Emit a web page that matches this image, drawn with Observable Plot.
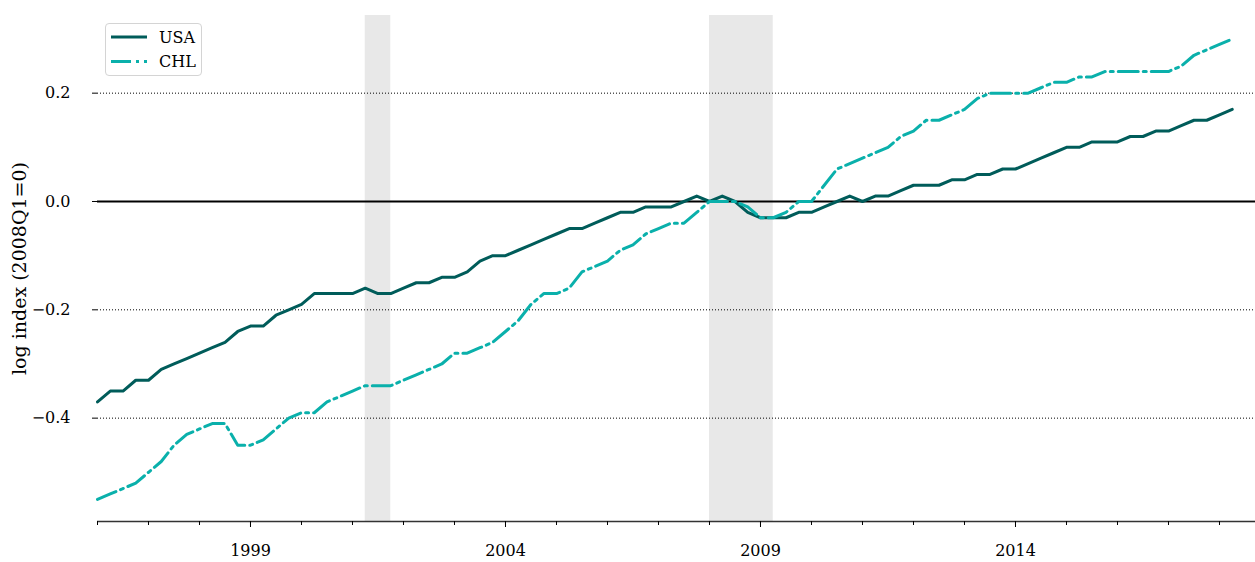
<!DOCTYPE html>
<html><head><meta charset="utf-8">
<script src="https://cdn.jsdelivr.net/npm/d3@7"></script>
<script src="https://cdn.jsdelivr.net/npm/@observablehq/plot@0.6"></script>
<style>
body{margin:0;background:#fff;font-family:"DejaVu Serif",serif;}
#wrap{position:relative;width:1255px;height:562px;}
#legend{position:absolute;left:105px;top:23px;width:97px;height:53px;border:1px solid #d4d4d4;border-radius:4px;background:rgba(255,255,255,0.85);box-sizing:border-box;}
#legend svg{position:absolute;left:0;top:0;}
</style></head><body>
<div id="wrap"><div id="chart"></div><div id="legend"></div></div>
<script>
// ---- data ----
const startYear = 1996; // first quarter: 1996Q1, quarterly observations
const countries = ["USA", "CHL"];
const usa = [-0.37,-0.35,-0.35,-0.33,-0.33,-0.31,-0.30,-0.29,-0.28,-0.27,-0.26,-0.24,
  -0.23,-0.23,-0.21,-0.20,-0.19,-0.17,-0.17,-0.17,-0.17,-0.16,-0.17,-0.17,
  -0.16,-0.15,-0.15,-0.14,-0.14,-0.13,-0.11,-0.10,-0.10,-0.09,-0.08,-0.07,
  -0.06,-0.05,-0.05,-0.04,-0.03,-0.02,-0.02,-0.01,-0.01,-0.01,0.00,0.01,
  0.00,0.01,0.00,-0.02,-0.03,-0.03,-0.03,-0.02,-0.02,-0.01,0.00,0.01,
  0.00,0.01,0.01,0.02,0.03,0.03,0.03,0.04,0.04,0.05,0.05,0.06,
  0.06,0.07,0.08,0.09,0.10,0.10,0.11,0.11,0.11,0.12,0.12,0.13,
  0.13,0.14,0.15,0.15,0.16,0.17];
const chl = [-0.55,-0.54,-0.53,-0.52,-0.50,-0.48,-0.45,-0.43,-0.42,-0.41,-0.41,-0.45,
  -0.45,-0.44,-0.42,-0.40,-0.39,-0.39,-0.37,-0.36,-0.35,-0.34,-0.34,-0.34,
  -0.33,-0.32,-0.31,-0.30,-0.28,-0.28,-0.27,-0.26,-0.24,-0.22,-0.19,-0.17,
  -0.17,-0.16,-0.13,-0.12,-0.11,-0.09,-0.08,-0.06,-0.05,-0.04,-0.04,-0.02,
  0.00,0.00,0.00,-0.01,-0.03,-0.03,-0.02,0.00,0.00,0.03,0.06,0.07,
  0.08,0.09,0.10,0.12,0.13,0.15,0.15,0.16,0.17,0.19,0.20,0.20,
  0.20,0.20,0.21,0.22,0.22,0.23,0.23,0.24,0.24,0.24,0.24,0.24,
  0.24,0.25,0.27,0.28,0.29,0.30];
const recessionStart = [2001.25, 2008.0];
const recessionEnd = [2001.75, 2009.25];
const yTicks = [-0.4, -0.2, 0.0, 0.2];
const xMajorTicks = [1999, 2004, 2009, 2014];
const xMinorTicks = d3.range(1996, 2019);
const yLabel = "log index (2008Q1=0)";

// ---- build tables ----
const series = {USA: usa, CHL: chl};
const rows = countries.flatMap(c => series[c].map((v, i) => ({country: c, date: startYear + i / 4, value: v})));
const recessions = recessionStart.map((s, i) => ({start: s, end: recessionEnd[i]}));

const colors = {USA: "#005c5a", CHL: "#0ab0ab"};
const dashCHL = "20,5,3,5";
const xDomain = [1996, 2018.706];
const yDomain = [-0.5908, 0.3434];
const FONT = "DejaVu Serif, serif";

const chart = Plot.plot({
  width: 1255, height: 562,
  marginLeft: 97, marginRight: 0, marginTop: 15, marginBottom: 41,
  style: {fontFamily: FONT, fontSize: "16px", color: "#000", background: "#fff"},
  x: {domain: xDomain},
  y: {domain: yDomain},
  marks: [
    Plot.rect(recessions, {x1: "start", x2: "end", fill: "#e8e8e8"}),
    Plot.ruleY(yTicks.filter(d => d !== 0), {stroke: "#000", strokeWidth: 1, strokeDasharray: "1,2"}),
    Plot.ruleY([0], {stroke: "#000", strokeWidth: 2}),
    Plot.ruleY([yDomain[0]], {stroke: "#333", strokeWidth: 1.5}),
    Plot.line(rows.filter(d => d.country === "USA"), {x: "date", y: "value", stroke: colors.USA, strokeWidth: 3}),
    Plot.line(rows.filter(d => d.country === "CHL"), {x: "date", y: "value", stroke: colors.CHL, strokeWidth: 3, strokeDasharray: dashCHL}),
    Plot.axisY({ticks: yTicks, tickSize: 5, tickPadding: 22, tickFormat: d3.format(".1f"), label: null, fontSize: 16}),
    Plot.axisX({ticks: xMinorTicks, tickSize: 4, tickFormat: () => "", label: null}),
    Plot.axisX({ticks: xMajorTicks, tickSize: 6, tickPadding: 17, tickFormat: d => String(d), label: null, fontSize: 16}),
    Plot.text([yLabel], {frameAnchor: "left", textAnchor: "middle", dx: -78, rotate: -90, fontSize: 19, fill: "#000"})
  ]
});
document.getElementById("chart").appendChild(chart);

// ---- legend ----
const lg = d3.select("#legend").append("svg").attr("width", 97).attr("height", 53)
  .style("font-family", FONT).style("font-size", "16px");
countries.forEach((c, i) => {
  const y = 13 + i * 24.5;
  lg.append("line").attr("x1", 5).attr("x2", 41).attr("y1", y).attr("y2", y)
    .attr("stroke", colors[c]).attr("stroke-width", 3)
    .attr("stroke-dasharray", c === "CHL" ? dashCHL : null);
  lg.append("text").attr("x", 53).attr("y", y).attr("dy", "0.35em").text(c);
});
</script>
</body></html>
